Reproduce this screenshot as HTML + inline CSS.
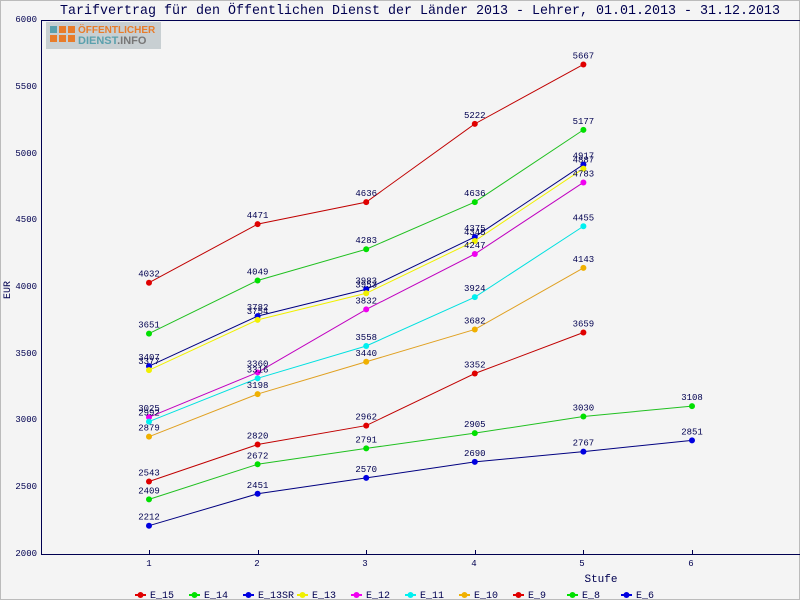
<!DOCTYPE html>
<html><head><meta charset="utf-8"><style>
html,body{margin:0;padding:0;background:#f4f4f4;}
svg{display:block;font-family:"Liberation Mono","DejaVu Sans Mono",monospace;}
</style></head><body>
<svg width="800" height="600" viewBox="0 0 800 600" xmlns="http://www.w3.org/2000/svg">
<rect x="0.5" y="0.5" width="799" height="599" fill="#f4f4f4" stroke="#bbb"/>
<text x="60" y="14" font-size="14" fill="#000050" textLength="720" lengthAdjust="spacingAndGlyphs">Tarifvertrag für den Öffentlichen Dienst der Länder 2013 - Lehrer, 01.01.2013 - 31.12.2013</text>
<g stroke="#000050" stroke-width="1" fill="none">
<line x1="41" y1="20.5" x2="800" y2="20.5"/>
<line x1="41.5" y1="20" x2="41.5" y2="554"/>
<line x1="41" y1="554.5" x2="800" y2="554.5"/>
</g>
<rect x="46" y="22" width="115" height="27" fill="#c8cfd2"/>
<rect x="50" y="26" width="7" height="7" fill="#5aa0ad"/>
<rect x="59" y="26" width="7" height="7" fill="#e87c2a"/>
<rect x="50" y="35" width="7" height="7" fill="#e87c2a"/><rect x="59" y="35" width="7" height="7" fill="#e87c2a"/><rect x="68" y="35" width="7" height="7" fill="#e87c2a"/><rect x="68" y="26" width="7" height="7" fill="#e87c2a"/>
<text x="78" y="33" font-family="Liberation Sans,sans-serif" font-weight="bold" font-size="10" fill="#e87c2a">ÖFFENTLICHER</text>
<text x="78" y="44" font-family="Liberation Sans,sans-serif" font-weight="bold" font-size="11" fill="#5aa0ad">DIENST<tspan fill="#777">.INFO</tspan></text>
<g font-size="9" fill="#000050" text-anchor="end">
<text x="37" y="22">6000</text><text x="37" y="89">5500</text><text x="37" y="156">5000</text><text x="37" y="222">4500</text><text x="37" y="289">4000</text><text x="37" y="356">3500</text><text x="37" y="422">3000</text><text x="37" y="489">2500</text><text x="37" y="556">2000</text>
</g>
<text x="10" y="290" font-size="10" fill="#000050" text-anchor="middle" transform="rotate(-90 10 290)">EUR</text>
<g stroke="#000050"><line x1="149.5" y1="550" x2="149.5" y2="554"/><line x1="258.5" y1="550" x2="258.5" y2="554"/><line x1="366.5" y1="550" x2="366.5" y2="554"/><line x1="475.5" y1="550" x2="475.5" y2="554"/><line x1="583.5" y1="550" x2="583.5" y2="554"/><line x1="692.5" y1="550" x2="692.5" y2="554"/></g>
<g font-size="9" fill="#000050" text-anchor="middle">
<text x="149" y="566">1</text><text x="257" y="566">2</text><text x="365" y="566">3</text><text x="474" y="566">4</text><text x="582" y="566">5</text><text x="691" y="566">6</text>
</g>
<text x="601" y="582" font-size="11" fill="#000050" text-anchor="middle">Stufe</text>
<g id="series"></g>
<g id="legend" font-size="10" fill="#000050"></g>
<script>
var S=[["E_15","#e00000","#c00000",[4032,4471,4636,5222,5667]],
["E_14","#00e000","#20c020",[3651,4049,4283,4636,5177]],
["E_13SR","#0000e0","#000080",[3407,3782,3983,4375,4917]],
["E_13","#f0f000","#f0f000",[3377,3754,3953,4345,4887]],
["E_12","#f000f0","#c000c0",[3025,3360,3832,4247,4783]],
["E_11","#00f0f0","#00e0e0",[2992,3316,3558,3924,4455]],
["E_10","#f0b000","#e0a020",[2879,3198,3440,3682,4143]],
["E_9","#e00000","#c00000",[2543,2820,2962,3352,3659]],
["E_8","#00e000","#20c020",[2409,2672,2791,2905,3030,3108]],
["E_6","#0000e0","#000080",[2212,2451,2570,2690,2767,2851]]];
var ns="http://www.w3.org/2000/svg",g=document.getElementById("series"),L=document.getElementById("legend");
function el(t,a,p){var e=document.createElementNS(ns,t);for(var k in a)e.setAttribute(k,a[k]);p.appendChild(e);return e;}
function X(i){return 149+i*108.6}function Y(v){return 554-(v-2000)*0.1335}
S.forEach(function(s,j){var pts=s[3].map(function(v,i){return X(i)+","+Y(v)}).join(" ");
el("polyline",{points:pts,fill:"none",stroke:s[2],"stroke-width":1},g);});
S.forEach(function(s){s[3].forEach(function(v,i){var x=X(i),y=Y(v);
el("circle",{cx:x,cy:y,r:3,fill:s[1]},g);
var t=el("text",{x:x,y:y-6,"font-size":9,fill:"#000050","text-anchor":"middle"},g);t.textContent=v;});});
S.forEach(function(s,i){var x=135+i*54;
el("line",{x1:x,y1:595,x2:x+11,y2:595,stroke:s[1],"stroke-width":2},L);
el("circle",{cx:x+5.5,cy:595,r:3,fill:s[1]},L);
var t=el("text",{x:x+15,y:598},L);t.textContent=s[0];});
</script>
</svg>
</body></html>
